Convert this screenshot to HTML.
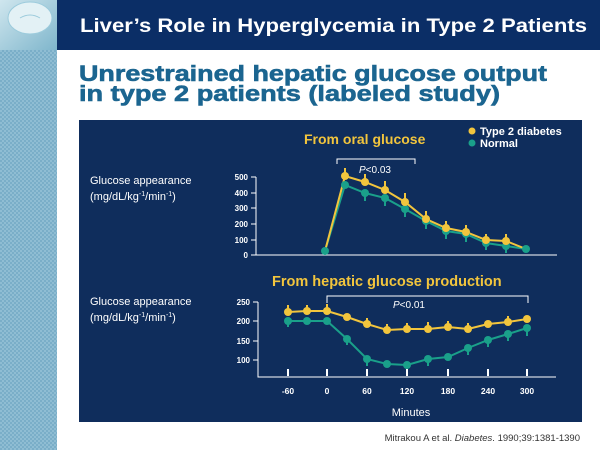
<!DOCTYPE html>
<html><head><meta charset="utf-8"><style>
html,body{margin:0;padding:0;width:600px;height:450px;overflow:hidden;background:#fff;font-family:"Liberation Sans",sans-serif}
</style></head><body>
<svg width="600" height="450" xmlns="http://www.w3.org/2000/svg" font-family="Liberation Sans, sans-serif">
<defs>
<pattern id="chk" width="4" height="4" patternUnits="userSpaceOnUse">
<rect width="4" height="4" fill="#8fbdd3"/><rect width="2" height="2" fill="#7aaec8"/><rect x="2" y="2" width="2" height="2" fill="#7aaec8"/>
</pattern>
<linearGradient id="pill" x1="0" y1="0" x2="1" y2="1"><stop offset="0" stop-color="#cfe6ee"/><stop offset="1" stop-color="#7fb6cc"/></linearGradient>
</defs>
<rect x="0" y="0" width="57" height="450" fill="url(#chk)"/>
<rect x="0" y="0" width="57" height="50" fill="url(#pill)"/>
<ellipse cx="30" cy="18" rx="22" ry="16" fill="#e3f1f5" stroke="#9ccbdc"/>
<path d="M20 18 q10 -6 20 0" stroke="#9ccbdc" fill="none"/>
<rect x="57" y="0" width="543" height="50" fill="#0b2e66"/>
<text x="80" y="32" fill="#fff" font-size="19" font-weight="bold" textLength="507" lengthAdjust="spacingAndGlyphs">Liver’s Role in Hyperglycemia in Type 2 Patients</text>
<g fill="#1b6590" font-size="22" font-weight="bold" stroke="#1b6590" stroke-width="0.6">
<text x="79" y="81" textLength="468" lengthAdjust="spacingAndGlyphs">Unrestrained hepatic glucose output</text>
<text x="79" y="101" textLength="421" lengthAdjust="spacingAndGlyphs">in type 2 patients (labeled study)</text>
</g>
<rect x="79" y="120" width="503" height="302" fill="#0f2d5c"/>
<g fill="#fff" font-size="11">
<text x="90" y="184">Glucose appearance</text>
<text x="90" y="200">(mg/dL/kg<tspan font-size="7" dy="-4">-1</tspan><tspan dy="4">/min</tspan><tspan font-size="7" dy="-4">-1</tspan><tspan dy="4">)</tspan></text>
<text x="90" y="305">Glucose appearance</text>
<text x="90" y="321">(mg/dL/kg<tspan font-size="7" dy="-4">-1</tspan><tspan dy="4">/min</tspan><tspan font-size="7" dy="-4">-1</tspan><tspan dy="4">)</tspan></text>
</g>
<g fill="#f2c53d" font-weight="bold">
<text x="304" y="144" font-size="14">From oral glucose</text>
<text x="272" y="286" font-size="14.5">From hepatic glucose production</text>
</g>
<g font-weight="bold" font-size="11" fill="#fff">
<circle cx="472" cy="131" r="3.5" fill="#f2c53d"/><text x="480" y="135">Type 2 diabetes</text>
<circle cx="472" cy="143" r="3.5" fill="#1aa08a"/><text x="480" y="147">Normal</text>
</g>
<g stroke="#fff" stroke-width="1" fill="none">
<path d="M337 164 V159 H415 V164"/>
<path d="M256 177 V255 H557"/>
<path d="M327 303 V296 H528 V303"/>
<path d="M258 302 V377 H556"/>
<path d="M251 177 H256 M251 193 H256 M251 208 H256 M251 224 H256 M251 240 H256 M251 255 H256"/>
<path d="M253 302 H258 M253 321 H258 M253 341 H258 M253 360 H258"/>
</g>
<g stroke="#fff" stroke-width="2"><path d="M288 369V376M327 369V376M367 369V376M407 369V376M448 369V376M488 369V376M527 369V376"/></g>
<g fill="#fff" font-size="8" font-weight="bold" text-anchor="end">
<text x="248" y="180">500</text><text x="248" y="196">400</text><text x="248" y="211">300</text><text x="248" y="227">200</text><text x="248" y="243">100</text><text x="248" y="258">0</text>
<text x="250" y="305">250</text><text x="250" y="324">200</text><text x="250" y="344">150</text><text x="250" y="363">100</text>
</g>
<g fill="#fff" font-size="8.5" font-weight="bold" text-anchor="middle">
<text x="288" y="394">-60</text><text x="327" y="394">0</text><text x="367" y="394">60</text><text x="407" y="394">120</text><text x="448" y="394">180</text><text x="488" y="394">240</text><text x="527" y="394">300</text>
</g>
<text x="411" y="416" fill="#fff" font-size="11" text-anchor="middle">Minutes</text>
<text x="359" y="173" fill="#fff" font-size="10"><tspan font-style="italic">P</tspan>&lt;0.03</text>
<text x="393" y="308" fill="#fff" font-size="10"><tspan font-style="italic">P</tspan>&lt;0.01</text>
<g stroke-width="2" fill="none">
<polyline stroke="#1aa08a" points="325,251 345,185 365,193 385,198 405,209 426,221 446,231 466,234 486,243 506,246 526,249"/>
<polyline stroke="#f2c53d" points="325,251 345,176 365,182 385,190 405,202 426,219 446,228 466,232 486,240 506,241 526,249"/>
<polyline stroke="#1aa08a" points="288,321 307,321 327,321 347,339 367,359 387,364 407,365 428,359 448,357 468,348 488,340 508,334 527,328"/>
<polyline stroke="#f2c53d" points="288,312 307,311 327,311 347,317 367,324 387,330 407,329 428,329 448,327 468,329 488,324 508,322 527,319"/>
</g>
<g stroke="#1aa08a" stroke-width="2"><path d="M365 193v8M385 198v8M405 209v8M426 221v8M446 231v8M466 234v8M486 243v7M506 246v7M288 321v6M347 339v6M367 359v7M428 359v7M468 348v7M488 340v7M508 334v7M527 328v8"/></g>
<g stroke="#f2c53d" stroke-width="2"><path d="M345 176v-8M365 182v-8M385 190v-9M405 202v-9M426 219v-8M446 228v-7M466 232v-7M486 240v-6M506 241v-7M288 312v-7M307 311v-6M327 311v-7M367 324v-6M387 330v-6M407 329v-6M428 329v-7M448 327v-6M468 329v-6M508 322v-6"/></g>
<g fill="#1aa08a">
<circle cx="325" cy="251" r="4"/><circle cx="345" cy="185" r="4"/><circle cx="365" cy="193" r="4"/><circle cx="385" cy="198" r="4"/><circle cx="405" cy="209" r="4"/><circle cx="426" cy="221" r="4"/><circle cx="446" cy="231" r="4"/><circle cx="466" cy="234" r="4"/><circle cx="486" cy="243" r="4"/><circle cx="506" cy="246" r="4"/><circle cx="526" cy="249" r="4"/>
<circle cx="288" cy="321" r="4"/><circle cx="307" cy="321" r="4"/><circle cx="327" cy="321" r="4"/><circle cx="347" cy="339" r="4"/><circle cx="367" cy="359" r="4"/><circle cx="387" cy="364" r="4"/><circle cx="407" cy="365" r="4"/><circle cx="428" cy="359" r="4"/><circle cx="448" cy="357" r="4"/><circle cx="468" cy="348" r="4"/><circle cx="488" cy="340" r="4"/><circle cx="508" cy="334" r="4"/><circle cx="527" cy="328" r="4"/>
</g>
<g fill="#f2c53d">
<circle cx="345" cy="176" r="4"/><circle cx="365" cy="182" r="4"/><circle cx="385" cy="190" r="4"/><circle cx="405" cy="202" r="4"/><circle cx="426" cy="219" r="4"/><circle cx="446" cy="228" r="4"/><circle cx="466" cy="232" r="4"/><circle cx="486" cy="240" r="4"/><circle cx="506" cy="241" r="4"/>
<circle cx="288" cy="312" r="4"/><circle cx="307" cy="311" r="4"/><circle cx="327" cy="311" r="4"/><circle cx="347" cy="317" r="4"/><circle cx="367" cy="324" r="4"/><circle cx="387" cy="330" r="4"/><circle cx="407" cy="329" r="4"/><circle cx="428" cy="329" r="4"/><circle cx="448" cy="327" r="4"/><circle cx="468" cy="329" r="4"/><circle cx="488" cy="324" r="4"/><circle cx="508" cy="322" r="4"/><circle cx="527" cy="319" r="4"/>
</g>
<text x="580" y="441" fill="#333" font-size="9.5" text-anchor="end">Mitrakou A et al. <tspan font-style="italic">Diabetes</tspan>. 1990;39:1381-1390</text>
</svg>
</body></html>
